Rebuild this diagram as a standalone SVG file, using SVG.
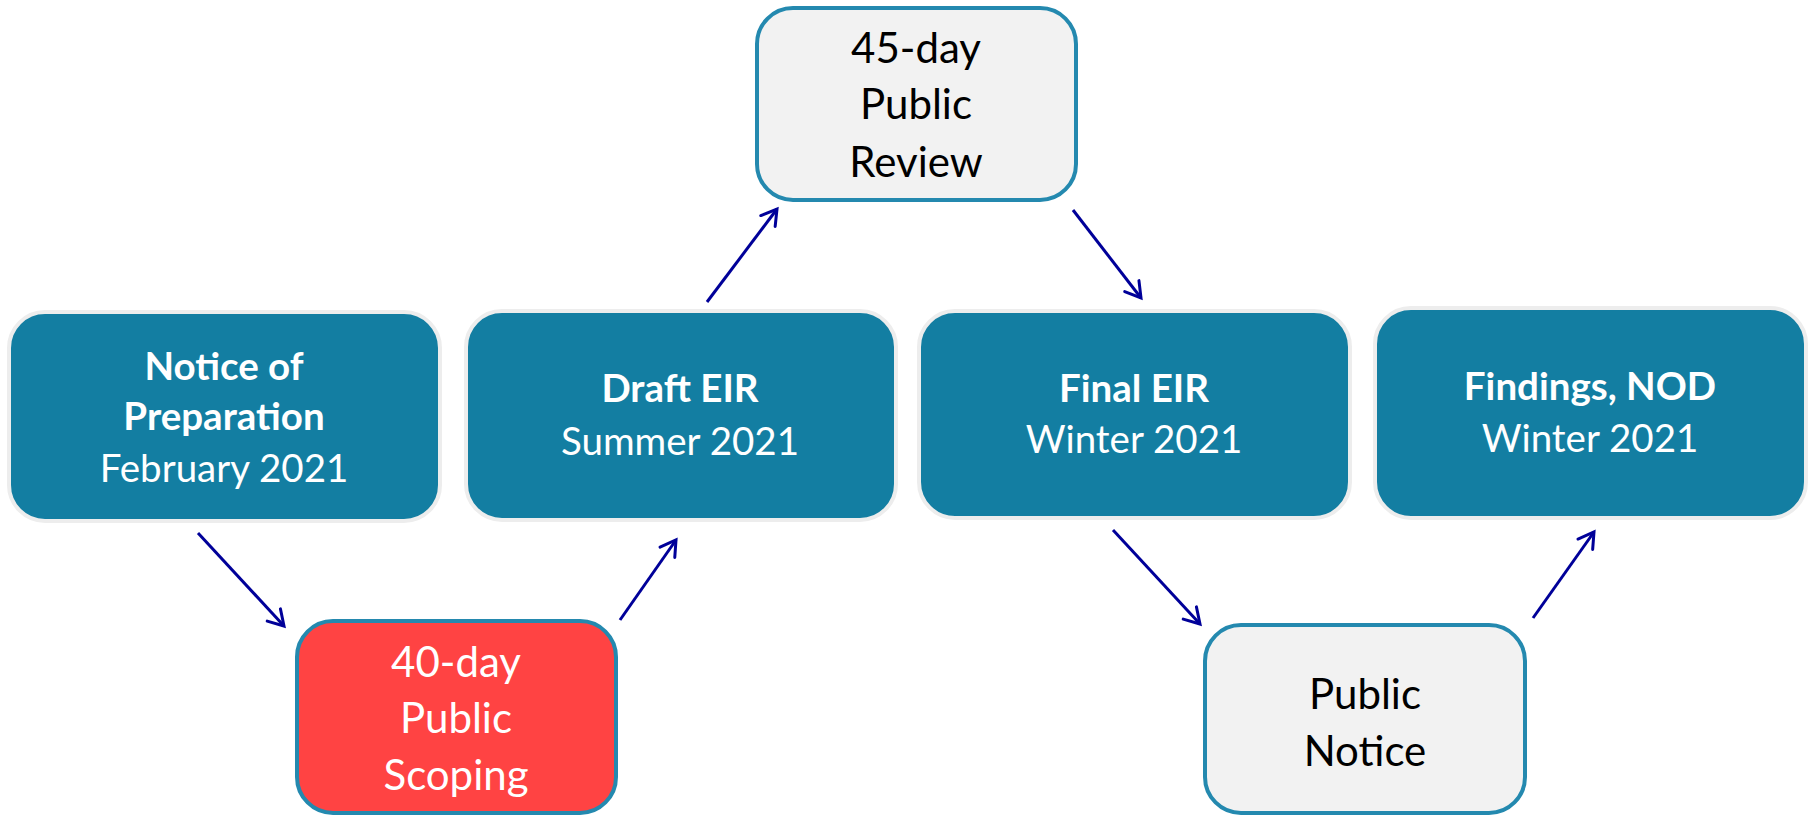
<svg xmlns="http://www.w3.org/2000/svg" width="1810" height="816" viewBox="0 0 1810 816">
<style>
.teal{fill:#137EA2;stroke:#EDEDED;stroke-width:4}
.light{fill:#F2F2F2;stroke:#2489AF;stroke-width:4}
.red{fill:#FF4343;stroke:#2489AF;stroke-width:4}
text{font-family:Lato,"Open Sans","Liberation Sans",sans-serif;text-anchor:middle}
.w{fill:#FFFFFF;font-size:38.5px}
.b{font-weight:bold}
.k{fill:#000000;font-size:42px}
.wl{fill:#FFFFFF;font-size:42px}
.conn{stroke:#000099;stroke-width:3;fill:none;marker-end:url(#arr)}
</style>
<defs>
<marker id="arr" markerUnits="userSpaceOnUse" markerWidth="24" markerHeight="24" viewBox="0 0 24 24" refX="21" refY="12" orient="auto">
<path d="M6,3 L21,12 L6,21" fill="none" stroke="#000099" stroke-width="3" stroke-linecap="round"/>
</marker>
</defs>
<g id="connectors">
<line class="conn" x1="198" y1="533" x2="284" y2="626"/>
<line class="conn" x1="620" y1="620" x2="676" y2="540"/>
<line class="conn" x1="707" y1="302" x2="777" y2="209"/>
<line class="conn" x1="1073" y1="210" x2="1141" y2="298"/>
<line class="conn" x1="1113" y1="530" x2="1200" y2="624"/>
<line class="conn" x1="1533" y1="618" x2="1594" y2="532"/>
</g>
<g id="notice-of-preparation">
<rect class="teal" x="9" y="312" width="431" height="209" rx="36"/>
<text class="w b" x="224" y="380">Notice of</text>
<text class="w b" x="224" y="430">Preparation</text>
<text class="w" x="224" y="482">February 2021</text>
</g>
<g id="public-scoping">
<rect class="red" x="297" y="621" width="319" height="192" rx="36"/>
<text class="wl" x="456" y="677">40-day</text>
<text class="wl" x="456" y="733">Public</text>
<text class="wl" x="456" y="790">Scoping</text>
</g>
<g id="draft-eir">
<rect class="teal" x="466" y="311" width="430" height="209" rx="36"/>
<text class="w b" x="680" y="402">Draft EIR</text>
<text class="w" x="680" y="455">Summer 2021</text>
</g>
<g id="public-review">
<rect class="light" x="757" y="8" width="319" height="192" rx="36"/>
<text class="k" x="916" y="63">45-day</text>
<text class="k" x="916" y="119">Public</text>
<text class="k" x="916" y="177">Review</text>
</g>
<g id="final-eir">
<rect class="teal" x="919" y="311" width="431" height="207" rx="36"/>
<text class="w b" x="1134" y="402">Final EIR</text>
<text class="w" x="1134" y="453">Winter 2021</text>
</g>
<g id="public-notice">
<rect class="light" x="1205" y="625" width="320" height="188" rx="36"/>
<text class="k" x="1365" y="709">Public</text>
<text class="k" x="1365" y="766">Notice</text>
</g>
<g id="findings-nod">
<rect class="teal" x="1375" y="308" width="431" height="210" rx="36"/>
<text class="w b" x="1590" y="400">Findings, NOD</text>
<text class="w" x="1590" y="452">Winter 2021</text>
</g>
</svg>
